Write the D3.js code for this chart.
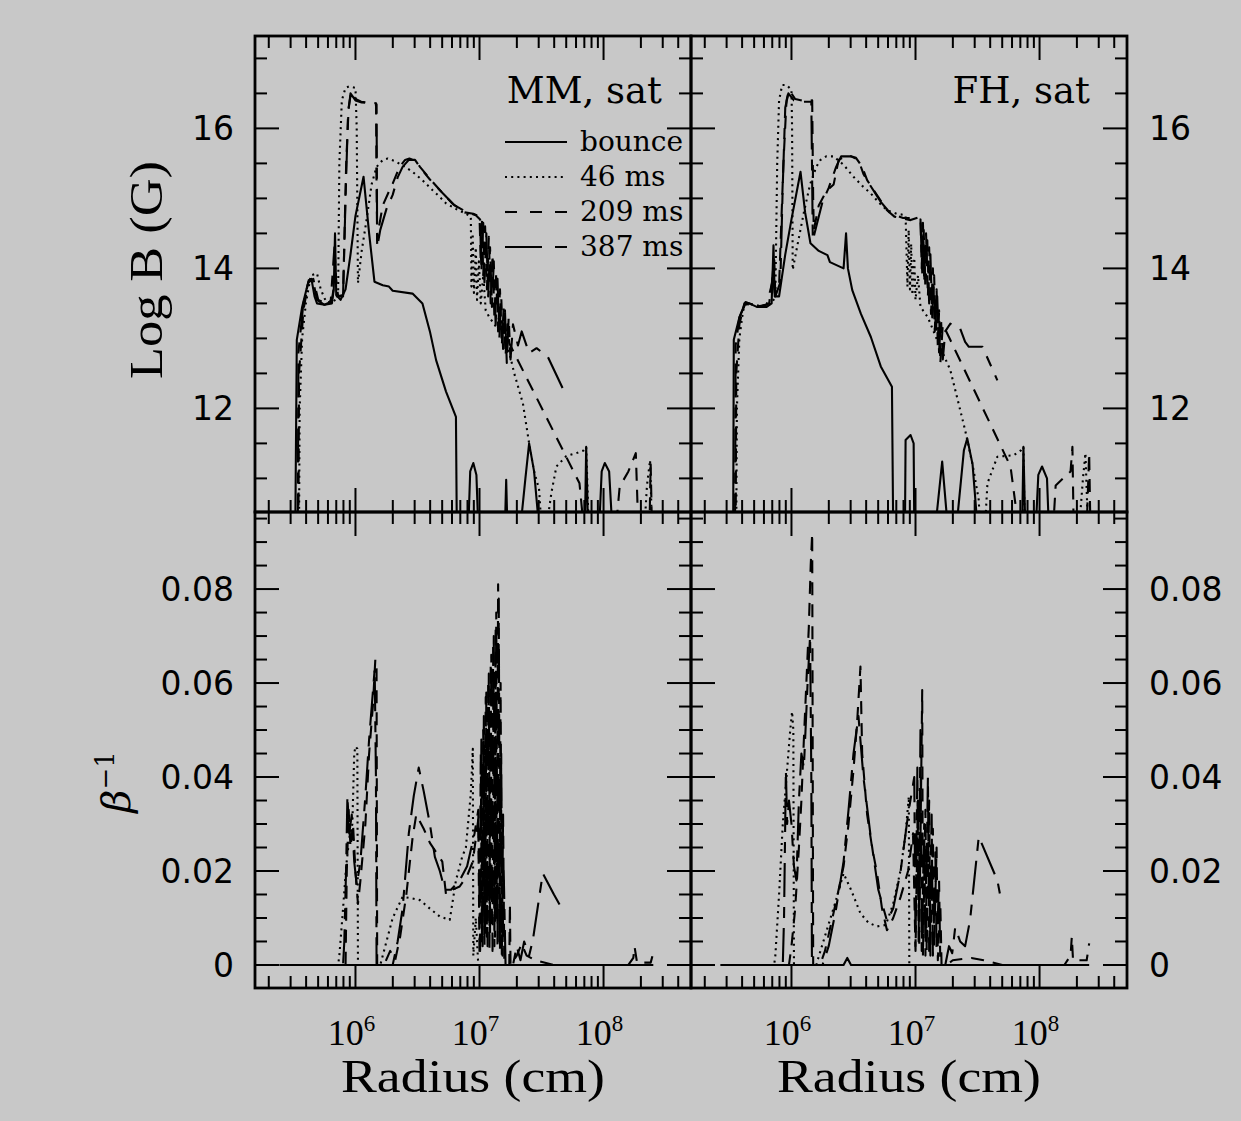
<!DOCTYPE html>
<html>
<head>
<meta charset="utf-8">
<script src="https://cdn.jsdelivr.net/npm/d3@7"></script>
<style>
  body { margin: 0; background: #c8c8c8; }
  svg { display: block; }
</style>
</head>
<body>
<svg id="fig" width="1241" height="1121"></svg>
<script>
// Magnetic field strength (log B) and inverse plasma beta versus radius
// for two equations of state (MM and FH) at four post-bounce times.
// Every profile point is [log10(radius / cm), value].

const seriesNames = ["bounce", "46 ms", "209 ms", "387 ms"];
const panelLabels = ["MM, sat", "FH, sat"];
const logBTicks = [12, 14, 16];
const betaTicks = [0, 0.02, 0.04, 0.06, 0.08];
const betaTickText = ["0", "0.02", "0.04", "0.06", "0.08"];
const radiusTicks = [1e6, 1e7, 1e8];
const radiusTickExp = ["6", "7", "8"];

// ---- MM, log B (G) ----
const mmLogB_bounce = [[5.515,10.3],[5.527,12.98],[5.57,13.45],[5.623,13.83],[5.645,13.85],[5.67,13.6],[5.69,13.5],[5.75,13.48],[5.81,13.5],[5.825,13.7],[5.835,14.5],[5.845,13.62],[5.88,13.55],[5.92,13.7],[5.96,14.2],[6.0,14.75],[6.065,15.31],[6.11,14.5],[6.153,13.81],[6.22,13.76],[6.27,13.74],[6.3,13.68],[6.46,13.64],[6.54,13.5],[6.6,13.1],[6.65,12.69],[6.73,12.24],[6.81,11.88],[6.817,10.3],[6.91,10.3],[6.925,11.1],[6.95,11.22],[6.975,11.05],[6.99,10.3],[7.205,10.3],[7.215,10.98],[7.225,10.3],[7.33,10.3],[7.37,11.0],[7.4,11.5],[7.44,11.1],[7.48,10.3],[7.85,10.3],[7.86,11.45],[7.875,10.3],[7.965,10.3],[7.985,11.1],[8.01,11.22],[8.045,11.1],[8.07,10.3],[8.4,10.3]];
const mmLogB_46 = [[5.545,10.3],[5.55,12.0],[5.57,13.0],[5.6,13.5],[5.64,13.9],[5.69,13.93],[5.72,13.7],[5.764,13.52],[5.82,13.52],[5.86,13.6],[5.87,15.5],[5.89,16.4],[5.92,16.58],[5.95,16.6],[6.0,16.58],[6.01,16.0],[6.02,13.79],[6.05,14.25],[6.09,14.7],[6.13,15.2],[6.17,15.45],[6.22,15.55],[6.26,15.57],[6.32,15.53],[6.4,15.45],[6.46,15.38],[6.54,15.26],[6.62,15.12],[6.68,15.02],[6.73,14.93],[6.81,14.85],[6.89,14.78],[6.93,14.74],[6.935,13.74],[6.945,14.5],[6.955,13.65],[6.97,14.3],[6.98,13.55],[6.995,14.1],[7.01,13.5],[7.03,13.9],[7.05,13.4],[7.08,13.3],[7.14,13.15],[7.19,13.12],[7.24,12.8],[7.28,12.5],[7.35,12.07],[7.4,11.5],[7.44,11.1],[7.48,10.85],[7.5,10.3],[7.54,10.3],[7.58,10.8],[7.62,11.17],[7.7,11.32],[7.78,11.36],[7.84,11.4],[7.86,11.45],[7.87,10.9],[7.88,10.3],[8.33,10.3],[8.35,10.9],[8.375,11.26],[8.39,10.3]];
const mmLogB_209 = [[5.54,10.3],[5.545,12.5],[5.58,13.4],[5.62,13.8],[5.66,13.85],[5.7,13.55],[5.76,13.5],[5.81,13.55],[5.84,13.9],[5.86,13.6],[5.9,13.6],[5.925,15.5],[5.945,16.3],[5.965,16.52],[6.0,16.42],[6.046,16.38],[6.1,16.37],[6.166,16.36],[6.17,15.2],[6.175,14.4],[6.19,14.6],[6.22,14.9],[6.27,15.1],[6.3,15.21],[6.355,15.45],[6.4,15.55],[6.435,15.57],[6.49,15.53],[6.52,15.45],[6.6,15.28],[6.68,15.12],[6.785,14.92],[6.88,14.8],[6.95,14.78],[7.0,14.74],[7.01,14.1],[7.02,14.68],[7.03,13.9],[7.045,14.6],[7.06,13.7],[7.075,14.45],[7.09,13.5],[7.105,14.2],[7.12,13.3],[7.135,13.95],[7.15,13.1],[7.165,13.7],[7.18,12.9],[7.195,13.45],[7.21,12.75],[7.225,13.2],[7.24,12.93],[7.806,10.93],[7.84,10.3],[8.1,10.3],[8.13,10.88],[8.2,11.1],[8.26,11.36],[8.28,10.3],[8.37,10.3],[8.38,11.2],[8.39,10.3]];
const mmLogB_387 = [[5.535,10.3],[5.54,12.8],[5.58,13.5],[5.62,13.8],[5.655,13.85],[5.69,13.55],[5.75,13.48],[5.8,13.52],[5.83,14.3],[5.85,13.6],[5.9,13.62],[5.92,15.0],[5.94,16.2],[5.96,16.5],[6.0,16.4],[6.05,16.37],[6.12,16.36],[6.17,16.34],[6.175,14.3],[6.2,14.55],[6.25,14.85],[6.3,15.05],[6.34,15.3],[6.38,15.45],[6.43,15.55],[6.48,15.55],[6.53,15.42],[6.6,15.27],[6.7,15.08],[6.8,14.9],[6.9,14.8],[6.97,14.76],[7.005,14.7],[7.015,13.95],[7.03,14.65],[7.04,13.8],[7.055,14.5],[7.07,13.6],[7.085,14.3],[7.1,13.45],[7.115,14.1],[7.13,13.2],[7.145,13.85],[7.16,13.0],[7.175,13.6],[7.19,12.85],[7.205,13.4],[7.22,12.65],[7.235,13.3],[7.25,12.7],[7.27,13.2],[7.31,12.9],[7.34,13.1],[7.4,12.79],[7.46,12.86],[7.55,12.74],[7.67,12.29]];

// ---- FH, log B (G) ----
const fhLogB_bounce = [[5.53,10.3],[5.535,12.98],[5.58,13.3],[5.63,13.52],[5.66,13.5],[5.72,13.45],[5.8,13.45],[5.84,13.5],[5.855,14.33],[5.865,13.6],[5.9,13.6],[5.95,14.2],[6.0,14.7],[6.073,15.38],[6.11,14.8],[6.153,14.36],[6.22,14.25],[6.29,14.19],[6.31,14.09],[6.42,14.0],[6.44,14.5],[6.455,14.0],[6.49,13.69],[6.56,13.35],[6.64,13.02],[6.72,12.6],[6.81,12.31],[6.82,10.3],[6.915,10.3],[6.92,11.55],[6.96,11.62],[6.985,11.5],[6.99,10.3],[7.16,10.3],[7.215,11.24],[7.26,10.3],[7.33,10.3],[7.39,11.4],[7.417,11.57],[7.46,11.2],[7.5,10.3],[7.86,10.3],[7.87,11.45],[7.885,10.3],[7.97,10.3],[7.99,11.05],[8.02,11.17],[8.06,11.0],[8.075,10.3],[8.4,10.3]];
const fhLogB_46 = [[5.555,10.3],[5.56,12.0],[5.58,13.0],[5.61,13.4],[5.64,13.5],[5.7,13.48],[5.78,13.45],[5.84,13.5],[5.87,13.6],[5.885,15.5],[5.9,16.4],[5.925,16.62],[5.96,16.62],[6.0,16.55],[6.005,16.0],[6.01,13.98],[6.05,14.35],[6.1,14.8],[6.15,15.2],[6.2,15.45],[6.234,15.55],[6.28,15.6],[6.34,15.6],[6.42,15.48],[6.5,15.31],[6.57,15.18],[6.64,15.07],[6.7,14.95],[6.77,14.83],[6.85,14.78],[6.92,14.76],[6.935,13.74],[6.945,14.55],[6.955,13.7],[6.965,14.35],[6.975,13.62],[6.99,14.15],[7.0,13.55],[7.02,13.9],[7.04,13.45],[7.1,13.3],[7.18,12.95],[7.28,12.55],[7.35,12.05],[7.4,11.69],[7.46,11.2],[7.51,10.69],[7.52,10.3],[7.56,10.3],[7.58,10.93],[7.66,11.31],[7.79,11.33],[7.85,11.4],[7.87,11.45],[7.88,10.3],[8.32,10.3],[8.35,11.0],[8.37,11.36],[8.39,10.3]];
const fhLogB_209 = [[5.55,10.3],[5.555,12.5],[5.58,13.2],[5.62,13.5],[5.66,13.5],[5.74,13.45],[5.82,13.5],[5.85,13.9],[5.865,13.65],[5.9,13.75],[5.935,15.5],[5.96,16.4],[5.98,16.55],[6.03,16.42],[6.1,16.39],[6.167,16.4],[6.175,15.0],[6.18,14.55],[6.22,14.9],[6.28,15.1],[6.34,15.2],[6.38,15.55],[6.45,15.62],[6.52,15.58],[6.57,15.45],[6.61,15.26],[6.7,15.02],[6.77,14.83],[6.83,14.74],[6.96,14.69],[7.04,14.74],[7.05,14.0],[7.06,14.65],[7.07,13.8],[7.085,14.5],[7.1,13.6],[7.11,14.3],[7.125,13.35],[7.14,14.0],[7.155,13.1],[7.17,13.7],[7.18,12.85],[7.19,13.4],[7.2,12.64],[7.22,13.2],[7.28,12.98],[7.766,11.17],[7.83,10.3],[8.11,10.3],[8.13,10.9],[8.25,11.1],[8.265,11.45],[8.275,10.3],[8.38,10.3],[8.4,11.36],[8.41,10.3]];
const fhLogB_387 = [[5.545,10.3],[5.55,12.9],[5.58,13.3],[5.63,13.5],[5.7,13.45],[5.8,13.48],[5.845,13.8],[5.86,14.2],[5.87,13.6],[5.91,13.8],[5.93,15.2],[5.95,16.3],[5.975,16.5],[6.02,16.4],[6.1,16.38],[6.16,16.38],[6.172,14.4],[6.2,14.6],[6.25,14.95],[6.3,15.15],[6.36,15.45],[6.4,15.6],[6.48,15.6],[6.54,15.55],[6.58,15.35],[6.63,15.2],[6.72,14.95],[6.8,14.78],[6.9,14.72],[7.0,14.72],[7.04,14.7],[7.055,13.9],[7.065,14.6],[7.08,13.7],[7.095,14.4],[7.11,13.5],[7.12,14.2],[7.135,13.3],[7.15,13.9],[7.165,13.05],[7.175,13.6],[7.19,12.8],[7.205,13.3],[7.22,12.7],[7.24,13.1],[7.28,13.21],[7.36,13.14],[7.4,12.95],[7.43,12.88],[7.54,12.88],[7.66,12.4]];

// ---- MM, inverse beta ----
const mmBeta_bounce = [[5.39,0],[8.4,0]];
const mmBeta_46 = [[5.39,0],[5.86,0],[5.87,0.002],[5.9,0.012],[5.925,0.021],[5.95,0.027],[5.975,0.03],[5.99,0.045],[6.0,0.0465],[6.015,0.046],[6.02,0],[6.2,0],[6.25,0.005],[6.3,0.01],[6.38,0.0145],[6.45,0.0142],[6.52,0.0138],[6.6,0.012],[6.68,0.0103],[6.76,0.0096],[6.81,0.018],[6.86,0.023],[6.89,0.025],[6.93,0.0365],[6.946,0.046],[6.95,0.002],[6.97,0.01],[6.99,0],[8.4,0]];
const mmBeta_209 = [[5.39,0],[5.92,0],[5.93,0.02],[5.945,0.033],[5.96,0.025],[5.98,0.03],[6.0,0.02],[6.02,0.013],[6.04,0.018],[6.08,0.03],[6.11,0.045],[6.14,0.055],[6.16,0.065],[6.17,0.063],[6.175,0],[6.23,0],[6.28,0.003],[6.32,0.001],[6.36,0.006],[6.41,0.015],[6.46,0.027],[6.49,0.032],[6.55,0.029],[6.6,0.026],[6.65,0.024],[6.7,0.022],[6.73,0.015],[6.78,0.016],[6.84,0.0167],[6.9,0.019],[6.946,0.022],[6.99,0.031],[7.0,0.002],[7.01,0.045],[7.02,0.005],[7.03,0.05],[7.04,0.004],[7.05,0.057],[7.06,0.006],[7.07,0.06],[7.08,0.003],[7.09,0.064],[7.1,0.008],[7.11,0.068],[7.12,0.004],[7.13,0.072],[7.14,0.01],[7.15,0.081],[7.16,0.005],[7.17,0.06],[7.18,0.002],[7.19,0.032],[7.2,0],[7.24,0],[7.245,0.013],[7.25,0],[7.3,0.002],[7.34,0.0045],[7.38,0.002],[7.45,0.001],[7.6,0],[8.2,0],[8.24,0.0015],[8.25,0.0039],[8.27,0.0005],[8.38,0.0005],[8.4,0.0025]];
const mmBeta_387 = [[5.39,0],[5.9,0],[5.91,0.005],[5.925,0.021],[5.935,0.036],[5.95,0.028],[5.97,0.032],[5.99,0.022],[6.01,0.017],[6.04,0.022],[6.08,0.036],[6.11,0.048],[6.14,0.058],[6.155,0.063],[6.165,0.04],[6.17,0],[6.3,0],[6.34,0.005],[6.38,0.012],[6.43,0.028],[6.47,0.036],[6.51,0.042],[6.55,0.037],[6.6,0.03],[6.64,0.023],[6.68,0.02],[6.72,0.016],[6.77,0.016],[6.84,0.018],[6.9,0.021],[6.96,0.028],[6.99,0.033],[7.005,0.003],[7.015,0.048],[7.025,0.004],[7.035,0.053],[7.045,0.006],[7.055,0.058],[7.065,0.004],[7.075,0.062],[7.085,0.007],[7.095,0.066],[7.105,0.003],[7.115,0.07],[7.125,0.006],[7.135,0.075],[7.145,0.004],[7.155,0.078],[7.165,0.003],[7.175,0.045],[7.185,0.002],[7.195,0.02],[7.21,0],[7.27,0],[7.3,0.004],[7.33,0.001],[7.36,0.005],[7.4,0.002],[7.43,0.0053],[7.51,0.0195],[7.6,0.015],[7.685,0.011]];

// ---- FH, inverse beta ----
const fhBeta_bounce = [[5.43,0],[6.42,0],[6.45,0.0015],[6.48,0],[8.4,0]];
const fhBeta_46 = [[5.43,0],[5.86,0],[5.87,0.002],[5.9,0.015],[5.93,0.03],[5.96,0.04],[5.99,0.05],[6.005,0.0539],[6.015,0.05],[6.02,0],[6.2,0],[6.22,0.0018],[6.28,0.007],[6.35,0.013],[6.42,0.0195],[6.48,0.016],[6.556,0.011],[6.62,0.009],[6.69,0.0082],[6.76,0.0085],[6.82,0.013],[6.88,0.0202],[6.92,0.028],[6.946,0.0358],[6.95,0],[8.4,0]];
const fhBeta_209 = [[5.43,0],[5.98,0],[6.0,0.004],[6.03,0.012],[6.06,0.025],[6.08,0.035],[6.1,0.048],[6.12,0.06],[6.14,0.072],[6.155,0.085],[6.167,0.0919],[6.175,0],[6.23,0],[6.27,0.003],[6.33,0.01],[6.38,0.016],[6.42,0.021],[6.46,0.03],[6.5,0.0415],[6.53,0.052],[6.556,0.0635],[6.57,0.045],[6.61,0.032],[6.65,0.025],[6.69,0.0195],[6.73,0.012],[6.77,0.0074],[6.82,0.01],[6.88,0.0145],[6.94,0.02],[6.98,0.028],[7.0,0.003],[7.02,0.035],[7.03,0.004],[7.054,0.0585],[7.06,0.002],[7.08,0.033],[7.09,0.003],[7.11,0.035],[7.12,0.002],[7.14,0.029],[7.15,0.004],[7.17,0.025],[7.18,0.001],[7.2,0.013],[7.21,0],[7.25,0],[7.3,0.001],[7.45,0.0015],[7.55,0.001],[7.7,0],[8.2,0],[8.25,0.002],[8.26,0.006],[8.27,0.001],[8.38,0.001],[8.4,0.0046]];
const fhBeta_387 = [[5.43,0],[5.93,0],[5.94,0.01],[5.955,0.0415],[5.965,0.03],[5.98,0.035],[6.0,0.03],[6.02,0.021],[6.04,0.018],[6.06,0.035],[6.08,0.045],[6.1,0.042],[6.13,0.06],[6.15,0.07],[6.16,0.04],[6.165,0],[6.25,0],[6.3,0.004],[6.36,0.012],[6.42,0.022],[6.46,0.033],[6.5,0.045],[6.54,0.053],[6.58,0.04],[6.64,0.027],[6.7,0.016],[6.77,0.0094],[6.82,0.012],[6.88,0.02],[6.94,0.032],[6.99,0.04],[7.0,0.004],[7.015,0.042],[7.025,0.005],[7.04,0.05],[7.05,0.003],[7.07,0.03],[7.08,0.002],[7.1,0.04],[7.11,0.003],[7.13,0.032],[7.14,0.002],[7.16,0.024],[7.17,0.003],[7.19,0.018],[7.2,0],[7.24,0],[7.27,0.004],[7.296,0.0025],[7.32,0.008],[7.36,0.005],[7.4,0.004],[7.44,0.0096],[7.51,0.0273],[7.66,0.018],[7.68,0.0152]];

// ---------------------------------------------------------------
const W = 1241, H = 1121;
const INK = "#000";
const BG = "#c8c8c8";
const LW = 2.1;
const dashPatterns = [null, "2,4.2", "13,9", "34,10,11,10"];

const svg = d3.select("#fig");
svg.append("rect").attr("width", W).attr("height", H).attr("fill", BG);

const cols = [{ x0: 255, x1: 691 }, { x0: 691, x1: 1127 }];
const rows = [{ y0: 36, y1: 512 }, { y0: 512, y1: 988 }];

const radiusDomain = [Math.pow(10, 5.19), Math.pow(10, 8.705)];
const logBDomain = [10.52, 17.32];
const betaDomain = [-0.0049, 0.0964];

const panels = [
  { col: 0, row: 0, kind: "B", data: [mmLogB_bounce, mmLogB_46, mmLogB_209, mmLogB_387], label: panelLabels[0] },
  { col: 1, row: 0, kind: "B", data: [fhLogB_bounce, fhLogB_46, fhLogB_209, fhLogB_387], label: panelLabels[1] },
  { col: 0, row: 1, kind: "beta", data: [mmBeta_bounce, mmBeta_46, mmBeta_209, mmBeta_387] },
  { col: 1, row: 1, kind: "beta", data: [fhBeta_bounce, fhBeta_46, fhBeta_209, fhBeta_387] }
];

const MAJ = 24, MIN = 12;
const tickFont = "'DejaVu Sans', sans-serif";
const serif = "'DejaVu Serif', serif";
const timesFont = "'Liberation Serif', serif";

// minor tick positions
const radiusMinor = [];
for (let e = 5; e <= 8; e++) for (let m = 1; m <= 9; m++) radiusMinor.push({ v: m * Math.pow(10, e), major: m === 1 });
const logBMinor = [];
for (let k = 21; k <= 34; k++) logBMinor.push({ v: k / 2, major: logBTicks.includes(k / 2) });
const betaMinor = [];
for (let k = 0; k <= 19; k++) betaMinor.push({ v: k * 0.005, major: k % 4 === 0 });

const defs = svg.append("defs");

panels.forEach((p, i) => {
  const c = cols[p.col], r = rows[p.row];
  const x = d3.scaleLog().domain(radiusDomain).range([c.x0, c.x1]);
  const y = d3.scaleLinear().domain(p.kind === "B" ? logBDomain : betaDomain).range([r.y1, r.y0]);

  defs.append("clipPath").attr("id", "clip" + i)
    .append("rect").attr("x", c.x0).attr("y", r.y0).attr("width", c.x1 - c.x0).attr("height", r.y1 - r.y0);

  const g = svg.append("g");
  const line = d3.line().x(d => x(Math.pow(10, d[0]))).y(d => y(d[1]));

  const curves = g.append("g").attr("clip-path", `url(#clip${i})`);
  p.data.forEach((series, s) => {
    curves.append("path")
      .attr("d", line(series))
      .attr("fill", "none")
      .attr("stroke", INK)
      .attr("stroke-width", LW)
      .attr("stroke-linejoin", "round")
      .attr("stroke-dasharray", dashPatterns[s]);
  });

  // ticks on all four sides, pointing inward
  const ticks = g.append("g").attr("stroke", INK).attr("stroke-width", 2);
  radiusMinor.forEach(t => {
    const px = x(t.v);
    if (px <= c.x0 + 1 || px >= c.x1 - 1) return;
    const len = t.major ? MAJ : MIN;
    ticks.append("line").attr("x1", px).attr("x2", px).attr("y1", r.y1).attr("y2", r.y1 - len);
    ticks.append("line").attr("x1", px).attr("x2", px).attr("y1", r.y0).attr("y2", r.y0 + len);
  });
  (p.kind === "B" ? logBMinor : betaMinor).forEach(t => {
    const py = y(t.v);
    if (py <= r.y0 + 1 || py >= r.y1 - 1) return;
    const len = t.major ? MAJ : MIN;
    ticks.append("line").attr("y1", py).attr("y2", py).attr("x1", c.x0).attr("x2", c.x0 + len);
    ticks.append("line").attr("y1", py).attr("y2", py).attr("x1", c.x1).attr("x2", c.x1 - len);
  });

  g.append("rect")
    .attr("x", c.x0).attr("y", r.y0).attr("width", c.x1 - c.x0).attr("height", r.y1 - r.y0)
    .attr("fill", "none").attr("stroke", INK).attr("stroke-width", 2.8);

  // y tick labels: outside on the left for the left column, on the right for the right column
  const vals = p.kind === "B" ? logBTicks : betaTicks;
  const texts = p.kind === "B" ? logBTicks.map(String) : betaTickText;
  vals.forEach((v, k) => {
    svg.append("text")
      .attr("x", p.col === 0 ? c.x0 - 21 : c.x1 + 22)
      .attr("y", y(v))
      .attr("dy", "0.36em")
      .attr("text-anchor", p.col === 0 ? "end" : "start")
      .attr("font-family", tickFont)
      .attr("font-size", 33)
      .attr("fill", INK)
      .text(texts[k]);
  });

  // x tick labels and axis title under the bottom row
  if (p.row === 1) {
    radiusTicks.forEach((v, k) => {
      const t = svg.append("text")
        .attr("x", x(v) - 4).attr("y", 1045)
        .attr("text-anchor", "middle")
        .attr("font-family", timesFont).attr("font-size", 36).attr("fill", INK);
      t.append("tspan").text("10");
      t.append("tspan").attr("font-size", 23).attr("dy", -14).text(radiusTickExp[k]);
    });
    svg.append("text")
      .attr("x", (c.x0 + c.x1) / 2).attr("y", 1092)
      .attr("text-anchor", "middle")
      .attr("font-family", timesFont).attr("font-size", 46).attr("fill", INK)
      .attr("textLength", 264).attr("lengthAdjust", "spacingAndGlyphs")
      .text("Radius (cm)");
  }

  if (p.label) {
    svg.append("text")
      .attr("x", p.col === 0 ? 662 : 1090).attr("y", 103)
      .attr("text-anchor", "end")
      .attr("font-family", serif).attr("font-size", 37).attr("fill", INK)
      .text(p.label);
  }
});

// y axis titles
svg.append("text")
  .attr("transform", "translate(162,270) rotate(-90)")
  .attr("text-anchor", "middle")
  .attr("font-family", timesFont).attr("font-size", 46).attr("fill", INK)
  .attr("textLength", 218).attr("lengthAdjust", "spacingAndGlyphs")
  .text("Log B (G)");

const betaTitle = svg.append("text")
  .attr("transform", "translate(130,782) rotate(-90)")
  .attr("text-anchor", "middle")
  .attr("font-family", serif).attr("font-size", 40).attr("fill", INK);
betaTitle.append("tspan").attr("font-style", "italic").text("β");
betaTitle.append("tspan").attr("font-size", 26).attr("dy", -16).text("−1");

// legend inside the MM log B panel
const legendRows = [151, 186, 221, 256];
const legend = svg.append("g");
seriesNames.forEach((name, s) => {
  const by = legendRows[s];
  legend.append("line")
    .attr("x1", 505).attr("x2", 567).attr("y1", by - 9).attr("y2", by - 9)
    .attr("stroke", INK).attr("stroke-width", LW)
    .attr("stroke-dasharray", s === 3 ? "37,13,12,13" : s === 2 ? "12,13" : dashPatterns[s]);
  legend.append("text")
    .attr("x", 580).attr("y", by)
    .attr("font-family", serif).attr("font-size", 28).attr("fill", INK)
    .text(name);
});
</script>
</body>
</html>
